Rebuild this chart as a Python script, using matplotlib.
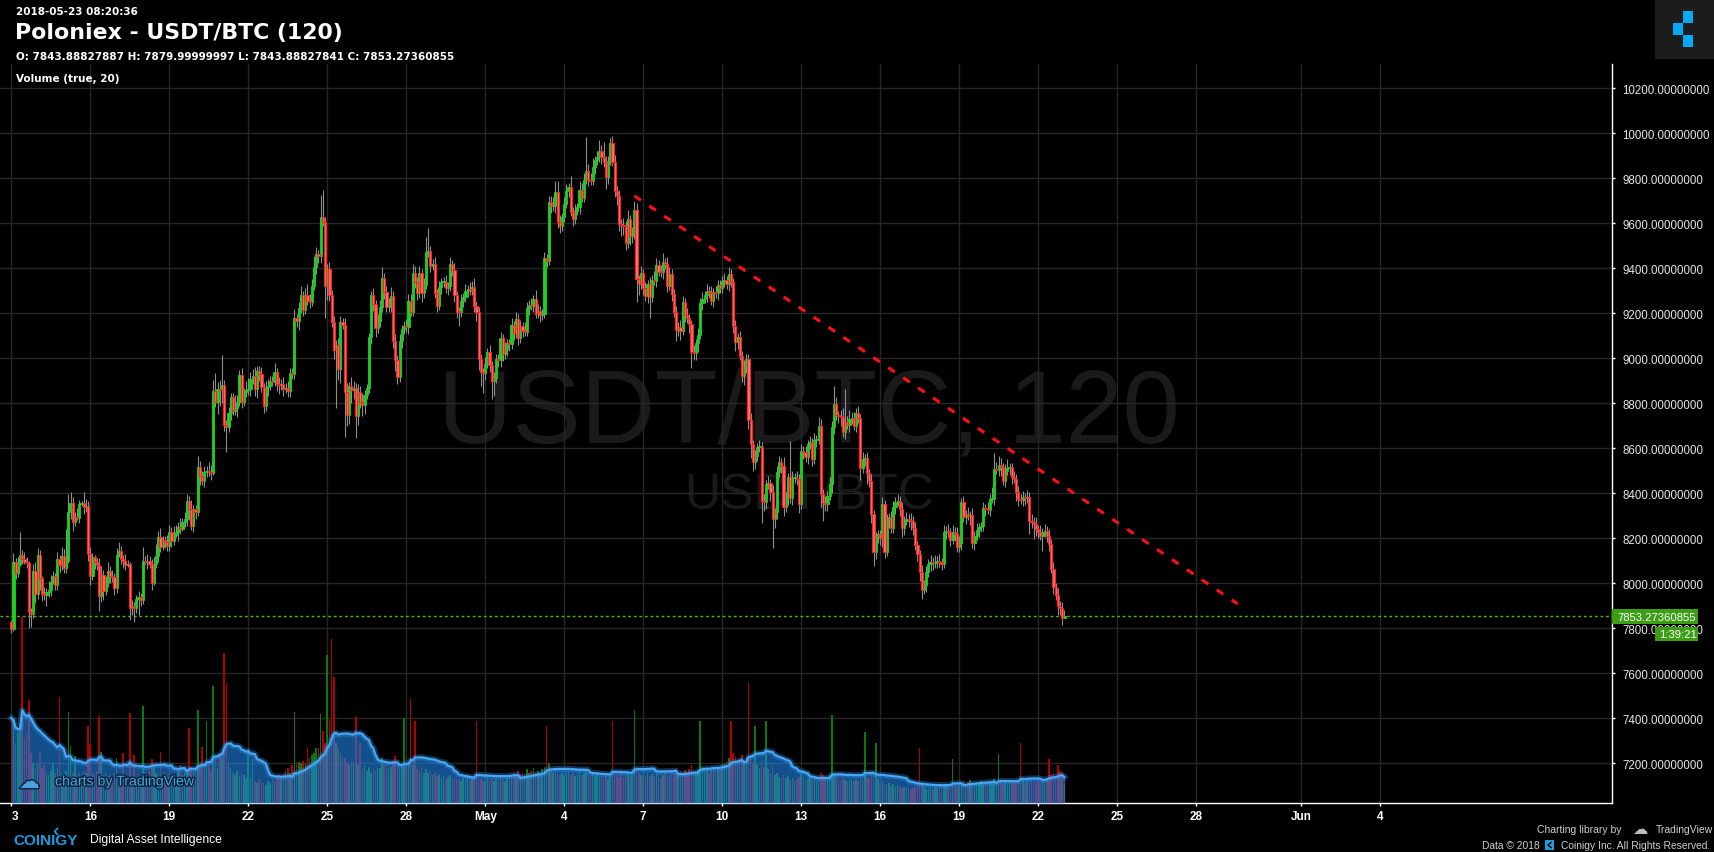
import numpy as np
import pandas as pd
import matplotlib
matplotlib.use("Agg")
import matplotlib.pyplot as plt
from matplotlib.patches import Rectangle
from matplotlib.lines import Line2D
import matplotlib.patheffects as pe

# ---------------------------------------------------------------- data
# 2-hour candles, Apr 13 2018 00:00 -> May 23 2018 00:00 (one row per day)
first_open = 7826.0
close_rows = [
    [7797, 8093, 8048, 8086, 8127, 8108, 8096, 8090, 7871, 7865, 8056, 7952],
    [8127, 8022, 7952, 7948, 7960, 7972, 8007, 8034, 7992, 8108, 8081, 8123],
    [8067, 8100, 8315, 8355, 8274, 8296, 8290, 8352, 8355, 8337, 8345, 8130],
    [8034, 8115, 8093, 8081, 7945, 8037, 7967, 8004, 8056, 8031, 8027, 7978],
    [8126, 8145, 8108, 8100, 8081, 8085, 7889, 7897, 7889, 7930, 7938, 7927],
    [8101, 8094, 8101, 8086, 8001, 8086, 8123, 8204, 8160, 8192, 8185, 8164],
    [8229, 8190, 8216, 8227, 8252, 8241, 8271, 8286, 8367, 8330, 8256, 8330],
    [8318, 8515, 8478, 8456, 8493, 8500, 8496, 8490, 8853, 8804, 8863, 8860],
    [8883, 8705, 8693, 8755, 8826, 8767, 8778, 8807, 8926, 8807, 8849, 8859],
    [8863, 8908, 8923, 8863, 8945, 8930, 8871, 8786, 8871, 8878, 8900, 8895],
    [8938, 8886, 8880, 8886, 8864, 8870, 8856, 8935, 8930, 9178, 9167, 9222],
    [9281, 9216, 9281, 9256, 9252, 9323, 9404, 9463, 9453, 9627, 9607, 9320],
    [9397, 9283, 9160, 9038, 9061, 8952, 9160, 9150, 8852, 8748, 8875, 8860],
    [8870, 8745, 8848, 8807, 8794, 8837, 8867, 9093, 9281, 9241, 9133, 9167],
    [9227, 9357, 9293, 9227, 9237, 9278, 9078, 8994, 8915, 9078, 9130, 9145],
    [9138, 9256, 9207, 9379, 9341, 9289, 9379, 9289, 9326, 9471, 9478, 9412],
    [9420, 9289, 9234, 9315, 9338, 9341, 9311, 9320, 9419, 9394, 9281, 9207],
    [9205, 9256, 9271, 9301, 9308, 9301, 9315, 9234, 9207, 8997, 8938, 8935],
    [8975, 9027, 8970, 8901, 8911, 8997, 8991, 9089, 9019, 9041, 9068, 9062],
    [9148, 9112, 9175, 9089, 9142, 9123, 9118, 9222, 9238, 9234, 9263, 9197],
    [9212, 9192, 9197, 9444, 9434, 9693, 9675, 9678, 9738, 9607, 9587, 9627],
    [9686, 9745, 9760, 9652, 9619, 9656, 9671, 9749, 9714, 9794, 9834, 9794],
    [9790, 9849, 9881, 9893, 9920, 9893, 9871, 9804, 9878, 9957, 9874, 9745],
    [9720, 9597, 9592, 9590, 9512, 9619, 9542, 9552, 9661, 9352, 9330, 9379],
    [9311, 9275, 9330, 9271, 9349, 9345, 9415, 9385, 9382, 9426, 9419, 9323],
    [9375, 9286, 9204, 9127, 9140, 9123, 9249, 9193, 9178, 9152, 9027, 9024],
    [9068, 9104, 9246, 9264, 9281, 9301, 9290, 9256, 9293, 9289, 9326, 9311],
    [9345, 9348, 9330, 9375, 9338, 9142, 9071, 9093, 9012, 8923, 8964, 8997],
    [8727, 8619, 8538, 8564, 8604, 8606, 8367, 8360, 8441, 8445, 8407, 8286],
    [8315, 8493, 8538, 8520, 8338, 8378, 8471, 8378, 8467, 8470, 8465, 8352],
    [8589, 8582, 8560, 8619, 8626, 8552, 8638, 8641, 8701, 8397, 8357, 8352],
    [8389, 8441, 8693, 8797, 8748, 8742, 8738, 8671, 8715, 8704, 8730, 8733],
    [8701, 8757, 8733, 8511, 8552, 8555, 8490, 8456, 8308, 8138, 8200, 8219],
    [8200, 8352, 8141, 8278, 8293, 8244, 8338, 8363, 8367, 8330, 8244, 8278],
    [8286, 8282, 8278, 8244, 8170, 8130, 8052, 7972, 7993, 8049, 8086, 8096],
    [8090, 8096, 8100, 8093, 8088, 8229, 8234, 8227, 8194, 8229, 8219, 8160],
    [8180, 8360, 8293, 8308, 8301, 8303, 8179, 8212, 8238, 8249, 8253, 8333],
    [8330, 8327, 8375, 8376, 8508, 8505, 8526, 8515, 8456, 8501, 8511, 8515],
    [8471, 8465, 8404, 8375, 8372, 8382, 8378, 8385, 8278, 8274, 8265, 8240],
    [8230, 8212, 8226, 8234, 8212, 8175, 8064, 7982, 7948, 7901, 7889, 7843.88827887],
    [7853.27360855],
]
# upper / lower wick beyond the body, in units of 10 USDT
wick_up_rows = [
    [1,4,2,3,10,2,3,2,1,2,3,4], [3,2,1,3,2,4,3,2,1,3,2,4], [3,14,8,5,3,2,4,2,1,5,3,2],
    [3,2,1,2,3,4,2,3,4,2,3,2], [3,4,2,2,3,2,1,3,2,2,3,2], [6,2,3,2,2,3,5,3,4,2,2,3],
    [3,2,4,3,2,4,2,3,3,2,4,2], [2,5,3,2,3,2,4,3,5,8,3,4], [13,2,2,3,2,2,6,3,2,3,2,4],
    [5,3,3,4,2,2,3,2,3,3,2,2], [4,2,3,2,3,2,3,2,2,4,2,3], [4,2,3,5,3,3,5,3,2,10,12,2],
    [2,3,2,3,2,3,3,2,3,4,2,4], [3,2,4,3,4,2,2,2,2,3,2,3], [3,5,2,3,3,4,2,3,2,3,2,2],
    [3,3,3,4,3,2,3,2,3,7,10,2], [2,3,2,3,2,2,3,2,3,2,3,2], [2,3,2,3,2,3,3,4,2,2,2,2],
    [3,2,3,2,3,2,2,3,2,3,2,2], [3,2,3,2,3,2,4,3,2,3,2,4], [3,2,2,3,2,3,3,4,5,5,3,2],
    [3,3,2,5,2,3,2,4,3,3,15,3], [3,4,2,3,5,3,7,3,2,2,3,3], [2,3,2,3,2,4,2,3,4,3,2,3],
    [2,3,2,3,2,4,3,2,3,4,2,3], [3,2,2,3,2,3,3,2,3,2,2,3], [2,3,2,3,2,3,2,3,2,3,2,2],
    [2,3,2,3,2,2,3,2,3,2,3,2], [2,3,2,3,2,3,2,3,2,3,2,3], [2,3,3,2,4,3,2,16,3,2,3,2],
    [3,2,3,2,3,2,3,2,4,3,2,3], [2,3,3,8,3,2,3,4,15,3,4,3], [3,2,3,2,3,2,3,2,3,2,3,2],
    [2,3,2,3,2,3,3,2,3,2,3,2], [3,2,3,2,3,2,2,3,2,3,2,3], [2,3,2,3,2,3,2,3,2,3,2,3],
    [3,2,3,2,3,2,3,2,3,2,2,3], [2,3,2,5,7,3,4,3,2,3,4,2], [2,3,2,3,2,3,2,3,2,3,2,3],
    [2,3,2,3,2,3,2,3,2,3,2,3], [3],
]
wick_dn_rows = [
    [2,1,3,2,1,2,1,2,7,6,2,4], [2,5,3,2,5,2,3,1,2,2,3,2], [2,2,1,3,4,2,1,2,1,3,2,3],
    [4,2,3,2,7,3,4,2,2,3,2,3], [2,1,2,3,2,1,5,3,6,2,7,3], [2,1,3,2,3,1,2,3,2,1,3,2],
    [2,3,2,1,4,2,1,2,3,5,2,3], [3,2,4,2,3,2,2,3,1,2,5,7], [6,3,11,2,3,2,2,4,2,3,2,2],
    [2,3,2,3,4,3,2,3,2,4,2,2], [2,3,4,2,3,2,3,3,2,2,3,4], [2,3,2,2,3,2,2,3,3,3,2,14],
    [6,3,2,4,26,5,6,2,20,5,4,6], [4,10,4,3,5,4,2,2,3,3,4,2], [3,2,3,2,2,3,3,5,3,2,3,2],
    [2,3,2,2,3,3,2,4,2,2,2,3], [2,2,3,2,3,2,2,3,2,3,3,3], [6,2,3,2,3,2,2,3,4,5,6,9],
    [3,2,3,8,7,2,3,3,3,2,3,3], [2,3,2,3,2,3,2,2,3,2,3,2], [2,3,2,2,3,2,3,2,3,3,3,2],
    [2,2,3,2,3,2,2,3,2,2,2,3], [2,2,3,2,2,3,2,5,3,2,2,3], [4,3,5,4,3,2,4,3,2,10,5,2],
    [3,2,3,9,2,2,3,2,2,3,2,3], [2,3,2,5,3,4,2,3,2,4,7,3], [3,4,2,3,2,3,2,2,3,2,3,2],
    [2,3,2,3,2,3,4,3,2,3,4,3], [4,6,4,3,2,2,10,4,3,2,4,13], [4,3,2,3,4,2,3,2,3,2,3,4],
    [2,3,2,3,2,3,2,3,2,6,8,3], [3,2,4,3,2,3,4,2,3,2,3,2], [2,3,2,5,2,3,5,3,4,6,3,2],
    [3,4,3,2,3,2,2,3,2,3,4,3], [2,3,4,3,2,3,4,4,2,3,2,3], [3,2,3,2,3,2,3,2,3,2,3,2],
    [2,3,2,3,2,4,2,3,2,3,2,2], [3,2,3,2,3,2,3,4,2,3,2,3], [3,2,4,3,2,3,3,2,6,3,7,3],
    [3,2,7,2,3,3,2,3,2,4,3,3], [0],
]
volume_rows = [
    [85, 81, 60, 70, 75, 186, 65, 70, 103, 50, 40, 35],
    [40, 52, 35, 38, 30, 28, 32, 40, 30, 35, 106, 30],
    [28, 32, 91, 57, 30, 47, 28, 30, 26, 32, 30, 77],
    [59, 30, 28, 32, 87, 51, 28, 30, 26, 28, 25, 30],
    [45, 26, 24, 50, 26, 24, 90, 24, 48, 25, 22, 26],
    [97, 30, 28, 32, 44, 38, 30, 28, 51, 26, 30, 28],
    [26, 30, 28, 25, 32, 38, 28, 30, 30, 75, 36, 32],
    [35, 93, 40, 56, 35, 82, 40, 32, 117, 45, 35, 50],
    [45, 150, 120, 40, 35, 30, 28, 32, 26, 30, 28, 25],
    [52, 25, 44, 22, 20, 24, 22, 20, 18, 22, 20, 24],
    [22, 25, 28, 26, 30, 32, 35, 30, 38, 91, 41, 41],
    [40, 42, 40, 55, 45, 48, 50, 55, 55, 89, 72, 60],
    [148, 84, 164, 126, 60, 55, 50, 46, 45, 40, 38, 42],
    [40, 86, 38, 60, 35, 38, 32, 36, 30, 34, 32, 35],
    [35, 45, 38, 40, 34, 36, 42, 47, 38, 34, 36, 85],
    [36, 40, 104, 38, 82, 34, 32, 36, 30, 34, 30, 32],
    [28, 30, 26, 28, 25, 27, 24, 26, 28, 24, 26, 25],
    [24, 22, 25, 23, 26, 22, 24, 26, 82, 28, 24, 22],
    [22, 25, 23, 24, 22, 25, 23, 26, 24, 22, 25, 27],
    [28, 30, 26, 32, 28, 30, 29, 34, 30, 32, 35, 30],
    [32, 30, 34, 36, 77, 40, 32, 30, 34, 30, 28, 30],
    [28, 30, 32, 28, 30, 27, 29, 32, 28, 30, 34, 30],
    [28, 30, 27, 29, 26, 28, 25, 27, 24, 28, 82, 30],
    [28, 26, 30, 25, 28, 30, 26, 28, 93, 36, 30, 28],
    [26, 28, 30, 27, 29, 26, 30, 28, 25, 28, 30, 27],
    [28, 32, 30, 34, 29, 32, 30, 33, 30, 34, 38, 32],
    [30, 33, 82, 36, 32, 34, 30, 33, 35, 32, 36, 34],
    [38, 40, 42, 45, 82, 50, 46, 40, 44, 48, 42, 46],
    [120, 48, 40, 77, 38, 35, 42, 36, 82, 34, 30, 38],
    [28, 30, 26, 24, 28, 25, 27, 23, 25, 22, 24, 26],
    [30, 25, 22, 24, 26, 23, 25, 22, 24, 30, 28, 24],
    [25, 28, 88, 30, 26, 24, 22, 25, 23, 22, 24, 23],
    [22, 24, 22, 25, 24, 71, 26, 24, 30, 28, 60, 24],
    [20, 22, 19, 18, 20, 17, 19, 16, 18, 17, 15, 16],
    [15, 16, 14, 15, 16, 18, 55, 20, 16, 14, 15, 16],
    [14, 16, 15, 17, 16, 18, 17, 16, 15, 44, 18, 16],
    [18, 20, 22, 19, 21, 23, 20, 18, 21, 19, 22, 20],
    [19, 21, 20, 22, 24, 20, 49, 21, 19, 20, 18, 21],
    [20, 22, 19, 21, 60, 23, 20, 22, 26, 23, 21, 20],
    [22, 20, 24, 23, 25, 44, 28, 30, 26, 38, 32, 30],
    [20],
]
tick_idx = [0, 36, 72, 108, 144, 180, 216, 252, 288, 324, 360, 396, 432, 468, 504, 540, 588, 624]
tick_labels = ["3", "16", "19", "22", "25", "28", "May", "4", "7", "10", "13", "16",
               "19", "22", "25", "28", "Jun", "4"]
price_ticks = list(range(7200, 10201, 200))
trend_idx = [284.0, 559.0]
trend_price = [9722.0, 7908.0]
last_price = 7853.27360855
countdown = "1:39:21"
ma_length = 20

# ---------------------------------------------------------------- layout
W, H = 1715, 853
fig = plt.figure(figsize=(W / 100, H / 100), dpi=100)
fig.patch.set_facecolor("black")


def fx(x):
    return x / W


def fy(y):
    return 1 - y / H


L, R, T, B = 0, 1612, 65, 804
X0, XSTEP = 11.3, 2.194          # pixel of first candle, pixels per candle
Y10K, YPER = 134.3, 0.225        # pixel of 10000, pixels per USDT
rect = [fx(L), fy(B), fx(R - L), (B - T) / H]
xlim = ((L - X0) / XSTEP, (R - X0) / XSTEP)
ylim = (10000 - (B - Y10K) / YPER, 10000 - (T - Y10K) / YPER)

ax = fig.add_axes(rect)
ax.set_facecolor("black")
axv = fig.add_axes(rect, sharex=ax)
axv.patch.set_alpha(0)
axc = fig.add_axes(rect, sharex=ax, sharey=ax)
axc.patch.set_alpha(0)
ax.set_xlim(*xlim)
ax.set_ylim(*ylim)

# ---------------------------------------------------------------- series
close = np.array(sum(close_rows, []), float)
wup = np.array(sum(wick_up_rows, []), float) * 10
wdn = np.array(sum(wick_dn_rows, []), float) * 10
vol = np.array(sum(volume_rows, []), float)
n = len(close)
assert len(wup) == n and len(wdn) == n and len(vol) == n, (n, len(wup), len(wdn), len(vol))
openp = np.r_[first_open, close[:-1]]
idx = np.arange(n)
hi = np.maximum(openp, close) + wup
lo = np.minimum(openp, close) - wdn
bull = close >= openp

# grid / axes styling
ax.set_axisbelow(True)
ax.grid(True, color="#272727", lw=1.0)
ax.yaxis.tick_right()
ax.set_yticks(price_ticks)
ax.set_yticklabels([f"{p:.8f}" for p in price_ticks])
ax.tick_params(axis="y", colors="white", length=2.5, width=1, pad=5,
               labelsize=8.3, labelcolor="#e6e6e6", labelfontfamily="Liberation Sans")
ax.set_xticks(tick_idx)
ax.set_xticklabels(tick_labels)
ax.tick_params(axis="x", colors="white", length=2.5, width=1, pad=2.5,
               labelsize=8.5, labelcolor="white", labelfontfamily="Liberation Sans")
for lab in ax.get_xticklabels():
    lab.set_fontweight("bold")
ax.get_xticklabels()[0].set_ha("left")
for s in ("left", "top"):
    ax.spines[s].set_visible(False)
for s in ("right", "bottom"):
    ax.spines[s].set_color("white")
    ax.spines[s].set_linewidth(1.0)

# watermark
ax.text(fx(809), fy(443), "USDT/BTC, 120", transform=fig.transFigure, ha="center",
        va="baseline", fontsize=74, family="Liberation Sans", color="#1a1a1a", zorder=0.2)
ax.text(fx(809), fy(509), "USDT/BTC", transform=fig.transFigure, ha="center",
        va="baseline", fontsize=36, family="Liberation Sans", color="#1a1a1a", zorder=0.2)

# volume
ma = pd.Series(vol).rolling(ma_length, min_periods=1).mean().to_numpy()
axv.bar(idx, vol, width=0.72, color=np.where(bull, "#0b780b", "#b00000"), lw=0, zorder=1)
axv.fill_between(idx, 0, ma, color="#2185e9", alpha=0.6, lw=0, zorder=2)
axv.plot(idx, ma, color="#2f8fe6", lw=4.5, alpha=0.35, zorder=3)
axv.plot(idx, ma, color="#4aa6f2", lw=1.6, zorder=4)
axv.set_ylim(0, B - T)
axv.axis("off")

# candles
axc.axis("off")
axc.vlines(idx, lo, hi, color="#8f8f8f", lw=0.8, zorder=2)
bh = np.maximum(np.abs(close - openp), 4)
bb = np.minimum(openp, close)
axc.bar(idx[bull], bh[bull], bottom=bb[bull], width=1.0, color="#1fd11f",
        edgecolor="#1fd11f", lw=0.6, zorder=3)
axc.bar(idx[~bull], bh[~bull], bottom=bb[~bull], width=1.0, color="#ff6c6c",
        edgecolor="#ff1f1f", lw=0.75, zorder=3)
axc.axhline(last_price, color="#58b21f", lw=1.0, ls=(0, (2, 2)), zorder=1)
axc.plot(trend_idx, trend_price, color="#ff1010", lw=2.2, dashes=(2.6, 3.3),
         dash_capstyle="butt", zorder=4)


# ---------------------------------------------------------------- overlays
def rect_px(x0, y0, x1, y1, color):
    fig.add_artist(Rectangle((fx(x0), fy(y1)), fx(x1 - x0), (y1 - y0) / H,
                             transform=fig.transFigure, facecolor=color, edgecolor="none"))


def line_px(xs, ys, **kw):
    fig.add_artist(Line2D([fx(x) for x in xs], [fy(y) for y in ys],
                          transform=fig.transFigure, **kw))


def text_px(x, y, s, **kw):
    return fig.text(fx(x), fy(y), s, **kw)


rect_px(1612, 610, 1698, 625, "#3c9e14")
text_px(1617, 617.8, f"{last_price:.8f}", va="center", ha="left", color="white",
        fontsize=8.1, family="Liberation Sans")
rect_px(1655, 628, 1698, 642, "#3c9e14")
text_px(1659, 635.3, countdown, va="center", ha="left", color="white",
        fontsize=8.1, family="Liberation Sans")

# header
bold = dict(family="DejaVu Sans", weight="bold", color="white", va="baseline", ha="left")
text_px(16, 15, "2018-05-23 08:20:36", fontsize=7.5, **bold)
text_px(15, 39, "Poloniex - USDT/BTC (120)", fontsize=15.8, **bold)
text_px(16, 60.5, "O: 7843.88827887 H: 7879.99999997 L: 7843.88827841 C: 7853.27360855",
        fontsize=7.5, **bold)
text_px(16, 82.3, "Volume (true, 20)", fontsize=7.5, **bold)

# top-right logo
rect_px(1655, 0, 1715, 60, "#1c1c1c")
for (a, b) in [(1683, 12), (1673, 24), (1683, 36)]:
    rect_px(a, b, a + 10, b + 12, "#03a9f4")

# charts by TradingView watermark
text_px(19, 789, "\u2601", fontsize=15, family="DejaVu Sans", color="#4aa3df", va="baseline",
        path_effects=[pe.withStroke(linewidth=2, foreground="#0a2238")])
text_px(55, 786.5, "charts by TradingView", fontsize=10.2, family="Liberation Sans",
        color="#4aa3df", va="baseline",
        path_effects=[pe.withStroke(linewidth=2, foreground="#0a2238")])

# footer
blue = "#1a9ee0"
text_px(13, 845, "COINIGY", fontsize=11, family="Liberation Sans", weight="bold",
        color=blue, va="baseline")
line_px([57.5, 54.5, 57.5], [829.5, 832.5, 835.5], color=blue, lw=1.2)
text_px(90, 843.5, "Digital Asset Intelligence", fontsize=8.7, family="Liberation Sans",
        color="white", va="baseline")
grey = "#cfcfcf"
text_px(1622, 833, "Charting library by", fontsize=7.5, family="Liberation Sans",
        color=grey, va="baseline", ha="right")
text_px(1632, 834, "\u2601", fontsize=11, family="DejaVu Sans", color="#bdbdbd", va="baseline")
text_px(1656, 833, "TradingView", fontsize=7.5, family="Liberation Sans", color=grey,
        va="baseline")
text_px(1540, 849.5, "Data \u00a9 2018", fontsize=7.4, family="Liberation Sans", color=grey,
        va="baseline", ha="right")
rect_px(1545, 841, 1554, 851, blue)
line_px([1551, 1548, 1551], [843.5, 846, 848.5], color="black", lw=1.1)
text_px(1561, 849.5, "Coinigy Inc. All Rights Reserved.", fontsize=7.4,
        family="Liberation Sans", color=grey, va="baseline")

fig.savefig("out.png", dpi=100, facecolor="black")
